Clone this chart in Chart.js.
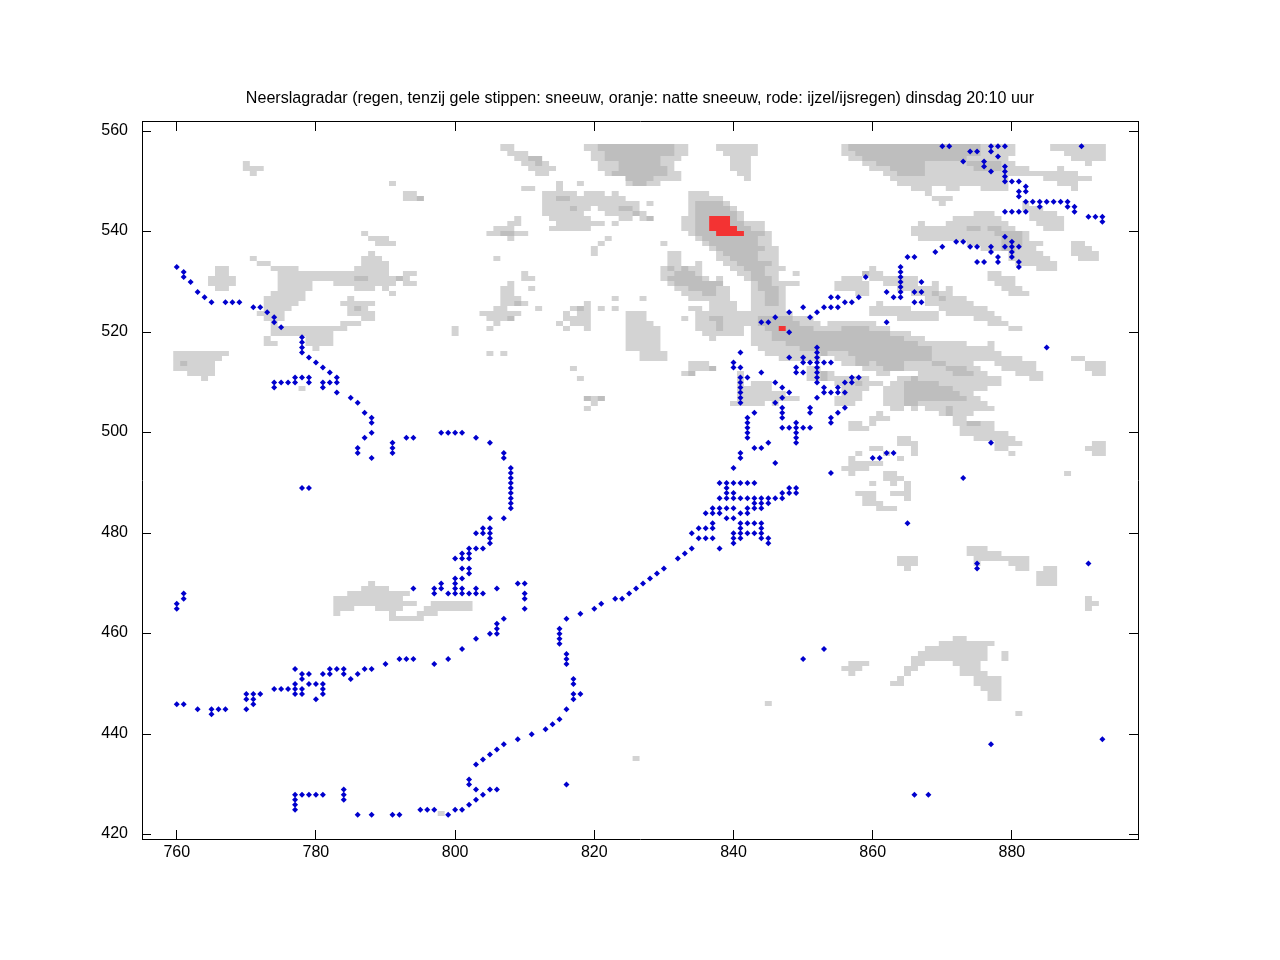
<!DOCTYPE html>
<html>
<head>
<meta charset="utf-8">
<title>Neerslagradar</title>
<script src="https://cdn.jsdelivr.net/npm/chart.js@4"></script>
<style>
  html, body { margin: 0; padding: 0; background: #ffffff; }
  canvas { display: block; }
</style>
</head>
<body>
<canvas id="radar" width="1280" height="960"></canvas>
<script>
/* ---------- data ---------- */
var chartTitle = "Neerslagradar (regen, tenzij gele stippen: sneeuw, oranje: natte sneeuw, rode: ijzel/ijsregen) dinsdag 20:10 uur";
var xTicks = [760, 780, 800, 820, 840, 860, 880];
var yTicks = [420, 440, 460, 480, 500, 520, 540, 560];

/* each row: grid row, then from,to pairs of columns */
var lightRows = [
  [557,807,808,819,820,832,833,838,843,856,856,876,880,886,893],
  [556,808,810,820,821,832,833,839,843,856,857,876,880,888,893],
  [555,809,810,820,821,830,832,840,842,857,858,874,879,889,893],
  [554,770,770,810,811,813,813,821,823,830,831,840,842,859,860,868,873,879,880,891,891],
  [553,770,772,811,814,821,823,831,831,840,842,860,862,868,874,879,882,887,887],
  [552,771,771,812,813,822,822,831,832,841,842,862,863,868,889],
  [551,829,832,842,842,863,879,885,891],
  [550,791,791,815,815,818,818,825,825,828,829,864,879,887,889],
  [549,810,811,815,815,866,868,871,872,876,879,889,889],
  [548,793,794,813,817,819,821,823,823,834,836,868,868],
  [547,793,794,813,814,817,824,834,838,869,871],
  [546,813,826,828,828,834,834,839,839,870,870,882,882],
  [545,813,816,818,819,821,823,826,826,834,834,840,840,882,884],
  [544,813,818,822,825,827,827,834,834,841,841,875,877,883,886],
  [543,809,809,814,819,824,825,827,827,833,834,841,841,872,878,883,887],
  [542,808,809,815,821,823,823,833,834,842,844,867,867,871,879,884,887],
  [541,806,808,814,819,833,834,843,844,866,873,876,876,879,880,885,887],
  [540,787,787,805,806,809,810,834,834,845,845,866,877,882,882],
  [539,788,790,808,808,822,822,835,835,844,845,867,878,882,882],
  [538,789,791,821,821,830,830,836,836,844,845,874,878,882,884,889,890],
  [537,820,820,837,837,845,846,876,878,881,883,889,891],
  [536,788,788,820,820,831,832,838,838,844,846,880,884,889,892],
  [535,771,771,787,789,806,806,831,832,838,839,844,846,880,885,890,892],
  [534,772,773,787,790,831,832,835,835,839,840,846,846,881,886],
  [533,766,767,774,777,786,790,830,830,832,832,834,835,840,841,845,847,860,860,884,886],
  [532,766,767,775,790,793,794,810,810,830,831,835,835,841,842,845,846,849,849,860,861,877,878],
  [531,765,768,775,785,788,791,793,793,810,811,830,830,836,836,838,838,842,842,846,846,856,858,860,866,877,880],
  [530,765,768,775,779,783,791,793,794,808,808,831,831,843,843,846,849,855,859,862,866,869,869,878,880],
  [529,766,767,775,779,786,788,790,790,807,808,811,811,832,833,838,839,843,843,847,847,855,859,864,869,871,871,879,881],
  [528,774,778,791,791,807,808,833,835,838,839,843,844,847,847,858,859,866,868,870,871,880,882],
  [527,773,778,785,785,807,809,823,823,827,827,834,839,843,844,847,847,868,869,871,873],
  [526,773,777,784,788,807,808,810,810,819,819,837,840,843,844,847,847,861,861,868,874],
  [525,773,776,785,785,787,787,806,807,812,812,817,817,819,819,821,821,823,823,834,835,837,840,843,847,860,865,870,876],
  [524,772,775,785,788,804,809,816,816,818,819,825,827,835,848,860,869,871,877],
  [523,773,775,787,788,805,807,816,819,825,827,833,833,835,836,839,843,849,851,864,869,875,878],
  [522,774,774,784,786,806,806,815,815,817,819,825,828,835,837,839,843,850,852,854,860,877,879],
  [521,774,784,800,800,805,805,816,816,819,819,825,829,835,837,839,841,843,844,852,855,860,862,880,881],
  [520,774,782,800,800,825,829,836,841,843,845,863,865],
  [519,773,773,779,782,825,829,837,837,843,845,865,867],
  [518,773,774,779,782,825,829,843,847,867,873,877,877],
  [517,780,780,825,829,844,849,869,877],
  [516,760,767,805,805,807,807,827,830,845,852,854,856,869,878],
  [515,760,766,827,830,847,852,855,857,869,881,889,890],
  [514,760,760,762,765,834,836,856,857,860,860,865,868,871,874,878,883,891,893],
  [513,760,765,817,817,834,836,851,852,859,861,865,870,874,875,879,883,891,893],
  [512,762,765,833,833,841,841,851,852,854,854,861,862,867,871,875,876,881,884,892,893],
  [511,764,764,818,818,841,841,851,852,854,859,864,865,867,878,883,884],
  [510,841,841,843,845,855,857,859,861,863,864,870,878],
  [509,778,778,841,845,856,859,862,864,872,876],
  [508,841,847,856,858,862,864,873,874],
  [507,820,820,841,849,855,858,862,864,874,875],
  [506,820,820,840,844,846,846,855,857,862,864,867,876],
  [505,819,819,863,864,866,866,868,870,872,877],
  [504,861,861,870,870,872,874],
  [503,860,862,872,873],
  [502,857,858,860,860,872,873,876,877],
  [501,857,859,873,877],
  [500,873,879],
  [499,864,865,875,880],
  [498,864,866,878,881,892,893],
  [497,860,861,866,866,878,879,891,893],
  [496,858,858,862,862,866,866,880,880,892,893],
  [495,857,857,864,864],
  [494,857,861],
  [493,856,859],
  [492,857,857,862,863,888,888],
  [491,862,864],
  [490,860,860,863,863,865,865],
  [489,865,865],
  [488,858,860,863,865],
  [487,859,860,865,865],
  [486,859,861],
  [485,861,863],
  [477,874,876],
  [476,874,878],
  [475,864,866,875,882],
  [474,864,866,875,875,880,882],
  [473,865,865,881,882,885,886],
  [472,884,886],
  [471,884,886],
  [470,788,788,884,886],
  [469,787,790],
  [468,785,793],
  [467,783,792,891,891],
  [466,783,794,797,802,891,892],
  [465,783,785,789,792,796,802,891,891],
  [464,783,783,791,791,795,797],
  [463,791,795],
  [459,872,873],
  [458,870,877],
  [457,868,876],
  [456,867,876,879,879],
  [455,866,876,879,879],
  [454,857,859,866,867,872,875],
  [453,856,858,865,866,873,875],
  [452,857,857,865,865,873,876],
  [451,864,864,875,878],
  [450,863,864,875,878],
  [449,876,878],
  [448,877,878],
  [447,877,878],
  [446,845,845],
  [444,881,881],
  [435,826,826],
  [424,798,798]
];

var midRows = [
  [557,821,831,857,875],
  [556,822,831,858,875],
  [555,811,812,822,829,859,873],
  [554,812,812,824,829,861,867,874,878],
  [553,824,830,863,867,875,878],
  [552,823,830,864,867],
  [551,825,828],
  [550,826,827],
  [547,795,795,815,816],
  [546,835,838],
  [545,817,817,824,825,835,839],
  [544,826,826,835,840],
  [543,828,828,835,836,840,840],
  [542,835,836,840,841],
  [541,835,836,841,842,874,875,877,878],
  [540,807,808,835,837,842,844,878,881],
  [539,836,843,879,881],
  [538,837,843,879,881],
  [537,838,844,879,880],
  [536,839,843],
  [535,840,843],
  [534,841,845],
  [533,831,831,833,833,842,844],
  [532,832,834,843,844,859,859],
  [531,786,787,792,792,831,835,843,845],
  [530,832,838,844,845],
  [529,834,837,844,846],
  [528,836,837,845,846,869,869],
  [527,845,846,870,870],
  [526,809,809,845,846],
  [525,786,786,818,818],
  [523,808,808,837,838,844,848],
  [522,838,838,844,849],
  [521,838,838,845,851,856,859],
  [520,846,862],
  [519,846,864],
  [518,848,866],
  [517,850,868],
  [516,853,853,857,868],
  [515,858,868],
  [514,761,761,858,859,861,864,869,870],
  [513,837,837,862,864,871,873],
  [512,834,834,853,853,872,874],
  [511,853,853,866,866],
  [510,858,858,865,869],
  [509,865,871],
  [508,865,872],
  [507,819,819,821,821,865,873],
  [506,865,866],
  [505,871,871],
  [504,871,871],
  [502,874,875]
];

var redRows = [
  [543,837,839],
  [542,837,839],
  [541,837,840],
  [540,838,841],
  [521,847,847]
];

/* each row: y, then the x values of the stations */
var dotRows = [
  [557,870,871,877,878,879,890],
  [556,874,875,877],
  [555,878],
  [554,873,876],
  [553,876,879],
  [552,877,879],
  [551,879],
  [550,879,880,881],
  [549,882],
  [548,881,882],
  [547,881],
  [546,882,883,884,885,886,887,888],
  [545,884,888,889],
  [544,879,880,881,882,889],
  [543,891,892,893],
  [542,893],
  [539,879],
  [538,872,873,880],
  [537,870,874,875,877,879,880,881],
  [536,869,877,880],
  [535,865,866,878,880],
  [534,875,876,878,881],
  [533,760,864,881],
  [532,761,864],
  [531,761,859,864],
  [530,762,864,867],
  [529,864],
  [528,763,862,864,866,867],
  [527,764,854,855,858,863,864],
  [526,765,767,768,769,856,857,866,867],
  [525,771,772,850,853,854,855],
  [524,773,848,852],
  [523,774,846,851],
  [522,774,844,845,862],
  [521,775],
  [520,848],
  [519,778],
  [518,778],
  [517,778,852,885],
  [516,778,841,852],
  [515,779,848,850,852],
  [514,780,840,850,851,852,853,854],
  [513,781,840,841,849,852],
  [512,782,844,849,850,852],
  [511,777,778,779,783,841,842,852,857,858],
  [510,774,775,776,777,779,781,782,783,841,846,852,856,857],
  [509,774,781,841,847,853,855],
  [508,783,841,848,853,854,855,856],
  [507,785,841,847,852],
  [506,786,841,846],
  [505,847,851,856],
  [504,787,843,847,851,855],
  [503,788,842,847,854],
  [502,788,842,849,854],
  [501,842,847,848,849,850,851],
  [500,788,798,799,800,801,842,849],
  [499,787,793,794,803,842,849],
  [498,791,805,845,849,877],
  [497,786,791,843,844],
  [496,786,791,807,841,862,863],
  [495,788,807,841,860,861],
  [494,846],
  [493,808,840],
  [492,808,854],
  [491,808,873],
  [490,808,838,839,840,841,842,843],
  [489,778,779,808,839,848,849],
  [488,808,839,840,847,848,849],
  [487,808,838,839,840,841,842,843,844,845,846,847],
  [486,808,843,844,845],
  [485,808,837,838,839,840,842,843,844],
  [484,836,837,838,841,842],
  [483,805,807,839,840],
  [482,837,841,842,843,844,865],
  [481,804,805,835,836,837,841,844],
  [480,803,804,805,834,840,841,842,843,844],
  [479,805,835,836,837,840,841,844,845],
  [478,805,840,845],
  [477,802,803,804,834,838],
  [476,801,802,833],
  [475,800,801,802,832],
  [474,875,891],
  [473,801,802,830,875],
  [472,802,829],
  [471,800,801,828],
  [470,798,800,809,810,827],
  [469,794,797,798,800,801,803,806,826],
  [468,761,797,799,800,801,802,803,804,810,825],
  [467,761,810,823,824],
  [466,760,821],
  [465,760,810,820],
  [464,818],
  [463,807,816],
  [462,806],
  [461,806,815],
  [460,805,806,815],
  [459,803,815],
  [458,815],
  [457,801,853],
  [456,816],
  [455,792,793,794,799,816,850],
  [454,790,797,816],
  [453,777,782,783,784,787,788],
  [452,778,779,781,782,784,786],
  [451,778,785,817],
  [450,777,779,780,781,817],
  [449,774,775,776,777,778,781],
  [448,770,771,772,777,778,781,817,818],
  [447,770,771,780,817],
  [446,760,761,771],
  [445,763,765,766,767,770,816],
  [444,765],
  [443,815],
  [442,814],
  [441,813],
  [440,811],
  [439,809,893],
  [438,807,877],
  [437,806],
  [436,805],
  [435,804],
  [434,803],
  [431,802],
  [430,802,816],
  [429,784,803,805,806],
  [428,777,778,779,780,781,784,804,866,868],
  [427,777,784,803],
  [426,777,802],
  [425,777,795,796,797,800,801],
  [424,786,788,791,792,799]
];

/* ---------- helpers ---------- */
/* radar rows run at a slightly smaller pitch than one axis unit */
function rowToY(row) {
  return 553.59 - (554 - row) * 0.995;
}

function pushRuns(points, rows) {
  rows.forEach(function (r) {
    var ys = [rowToY(r[0])];
    /* the top row of the radar image is cut a little taller */
    if (r[0] === 557) ys.push(rowToY(557.4));
    ys.forEach(function (y) {
      for (var i = 1; i < r.length; i += 2) {
        points.push({ x: r[i] - 0.5, y: y });
        points.push({ x: r[i + 1] + 0.5, y: y });
        points.push({ x: NaN, y: NaN });
      }
    });
  });
  return points;
}

function dotPoints() {
  var points = [];
  dotRows.forEach(function (r) {
    for (var i = 1; i < r.length; i++) points.push({ x: r[i], y: r[0] });
  });
  return points;
}

function cellDataset(points, color) {
  return {
    data: points,
    showLine: true,
    borderColor: color,
    borderWidth: 5,
    borderCapStyle: "butt",
    pointRadius: 0,
    pointHoverRadius: 0,
    spanGaps: false
  };
}

function axis(position, tickValues, size, min, max, opts) {
  var horizontal = position === "top" || position === "bottom";
  var ax = {
    type: "linear",
    position: position,
    min: min,
    max: max,
    afterBuildTicks: function (scale) {
      scale.ticks = tickValues.map(function (v) { return { value: v }; });
    },
    afterFit: function (scale) {
      if (horizontal) scale.height = size; else scale.width = size;
    },
    border: { display: true, color: "#000000", width: 1 },
    grid: {
      display: true,
      drawOnChartArea: false,
      drawTicks: true,
      tickLength: -9,
      tickColor: "#000000",
      tickWidth: 1
    },
    ticks: {
      display: opts.labels,
      autoSkip: false,
      maxRotation: 0,
      padding: opts.padding || 0,
      labelOffset: opts.labelOffset || 0,
      color: "#000000",
      font: { family: '"Liberation Sans", sans-serif', size: 16 }
    }
  };
  return ax;
}

/* ---------- chart ---------- */
var X_MIN = 755.01, X_MAX = 898.12, Y_MIN = 419.17, Y_MAX = 561.85;

new Chart(document.getElementById("radar").getContext("2d"), {
  type: "scatter",
  data: {
    datasets: [
      {
        data: dotPoints(),
        pointStyle: "rectRot",
        pointRadius: 3,
        pointHoverRadius: 3,
        pointBorderWidth: 0,
        backgroundColor: "#0000cd"
      },
      cellDataset(pushRuns([], redRows), "#f33333"),
      cellDataset(pushRuns([], midRows), "#bebebe"),
      /* light layer also runs under the mid cells so no seams show */
      cellDataset(pushRuns(pushRuns([], lightRows), midRows.concat(redRows)), "#d3d3d3")
    ]
  },
  options: {
    responsive: false,
    animation: false,
    devicePixelRatio: 1,
    layout: { autoPadding: false, padding: 0 },
    plugins: {
      legend: { display: false },
      tooltip: { enabled: false },
      title: {
        display: true,
        text: chartTitle,
        color: "#000000",
        font: { family: '"Liberation Sans", sans-serif', size: 16.08, weight: "normal" },
        padding: { top: 89, bottom: 0 }
      }
    },
    scales: {
      x: axis("bottom", xTicks, 121, X_MIN, X_MAX, { labels: true, padding: 13 }),
      y: axis("left", yTicks, 142, Y_MIN, Y_MAX, { labels: true, padding: 23, labelOffset: -1 }),
      xTop: axis("top", xTicks, 13.7, X_MIN, X_MAX, { labels: false }),
      yRight: axis("right", yTicks, 142, Y_MIN, Y_MAX, { labels: false })
    }
  }
});
</script>
</body>
</html>
